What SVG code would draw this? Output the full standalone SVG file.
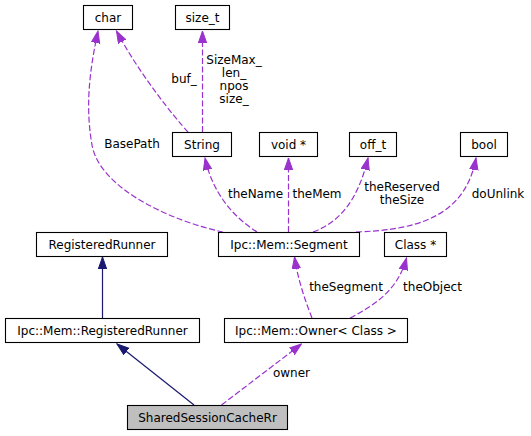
<svg xmlns="http://www.w3.org/2000/svg" width="531" height="436" viewBox="0 0 531 436">
<style>
text{font-family:"DejaVu Sans","Liberation Sans",sans-serif;font-size:12px;fill:#000}
.n rect{fill:#fff;stroke:#000;stroke-width:1.1}
.n text{text-anchor:middle}
.cur rect{fill:#bfbfbf}
.u{fill:none;stroke:#9a32cd;stroke-width:1.2;stroke-dasharray:6,2.5}
.i{fill:none;stroke:#191970;stroke-width:1.2}
.l{text-anchor:middle}
</style>
<defs>
<marker id="ap" markerUnits="userSpaceOnUse" markerWidth="13" markerHeight="10" refX="12" refY="4.5" orient="auto" viewBox="0 0 13 10"><path d="M0,0.3 L12,4.5 L0,8.7 z" fill="#9a32cd" stroke="#9a32cd"/></marker>
<marker id="an" markerUnits="userSpaceOnUse" markerWidth="13" markerHeight="10" refX="12" refY="4.5" orient="auto" viewBox="0 0 13 10"><path d="M0,0.3 L12,4.5 L0,8.7 z" fill="#191970" stroke="#191970"/></marker>
</defs>
<rect width="531" height="436" fill="#fff"/>
<g id="edges">
<path class="u" d="M188,132 C175,118 140,75 116.5,31" marker-end="url(#ap)"/>
<path class="u" d="M202.5,132 L202.5,31" marker-end="url(#ap)"/>
<path class="u" d="M223,232 C175,222 100,190 92,145 C84,100 92,60 98,31" marker-end="url(#ap)"/>
<path class="u" d="M257,232 C235,218 213,195 205,158" marker-end="url(#ap)"/>
<path class="u" d="M288.5,232 L288.5,158" marker-end="url(#ap)"/>
<path class="u" d="M313,232 C340,222 358,200 368,158" marker-end="url(#ap)"/>
<path class="u" d="M356,232 C415,230 465,218 476,158" marker-end="url(#ap)"/>
<path class="u" d="M312,318 C305,300 298,280 294.5,257" marker-end="url(#ap)"/>
<path class="u" d="M350,318 C375,305 398,290 406.5,258" marker-end="url(#ap)"/>
<path class="u" d="M221.5,405 L301.5,344" marker-end="url(#ap)"/>
<path class="i" d="M102.5,318 L102.5,257" marker-end="url(#an)"/>
<path class="i" d="M194,405 L117,344" marker-end="url(#an)"/>
<text class="l" x="184" y="83">buf_</text>
<text class="l" x="234" y="64">SizeMax_</text>
<text class="l" x="234" y="77">len_</text>
<text class="l" x="234" y="90">npos</text>
<text class="l" x="234" y="103">size_</text>
<text class="l" x="132" y="148">BasePath</text>
<text class="l" x="255.5" y="197.5">theName</text>
<text class="l" x="317" y="197.5">theMem</text>
<text class="l" x="402" y="191">theReserved</text>
<text class="l" x="402" y="204">theSize</text>
<text class="l" x="498" y="197.5">doUnlink</text>
<text class="l" x="346" y="290.5">theSegment</text>
<text class="l" x="432.5" y="290.5">theObject</text>
<text class="l" x="291.5" y="377">owner</text>
</g>
<g id="node-char" class="n"><rect x="83.5" y="5.5" width="49" height="24"/><text x="108" y="21.5">char</text></g>
<g id="node-size_t" class="n"><rect x="175.5" y="5.5" width="54" height="24"/><text x="202.5" y="21.5">size_t</text></g>
<g id="node-String" class="n"><rect x="172.5" y="132.5" width="59" height="24"/><text x="202" y="148.5">String</text></g>
<g id="node-void" class="n"><rect x="259.5" y="132.5" width="58" height="24"/><text x="288.5" y="148.5">void *</text></g>
<g id="node-off_t" class="n"><rect x="349.5" y="132.5" width="47" height="24"/><text x="373" y="148.5">off_t</text></g>
<g id="node-bool" class="n"><rect x="460.5" y="132.5" width="47" height="24"/><text x="484" y="148.5">bool</text></g>
<g id="node-RegisteredRunner" class="n"><rect x="36.5" y="232.5" width="131" height="24"/><text x="102" y="248.5">RegisteredRunner</text></g>
<g id="node-Segment" class="n"><rect x="218.5" y="232.5" width="141" height="24"/><text x="289" y="248.5">Ipc::Mem::Segment</text></g>
<g id="node-ClassPtr" class="n"><rect x="384.5" y="232.5" width="62" height="24"/><text x="415.5" y="248.5">Class *</text></g>
<g id="node-IpcRegisteredRunner" class="n"><rect x="5.5" y="318.5" width="194" height="24"/><text x="102.5" y="334.5">Ipc::Mem::RegisteredRunner</text></g>
<g id="node-Owner" class="n"><rect x="224.5" y="318.5" width="183" height="24"/><text x="316" y="334.5">Ipc::Mem::Owner&lt; Class &gt;</text></g>
<g id="node-SharedSessionCacheRr" class="n cur"><rect x="127.5" y="405.5" width="160" height="24"/><text x="207.5" y="421.5">SharedSessionCacheRr</text></g>
</svg>
